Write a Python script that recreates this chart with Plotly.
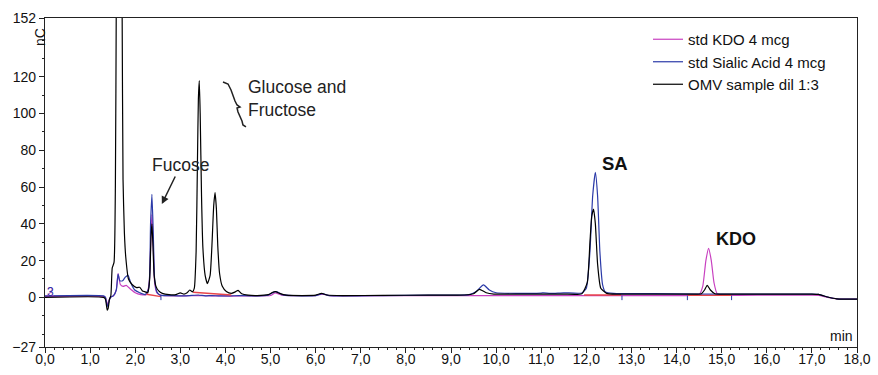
import plotly.graph_objects as go

# ---------------- data ----------------
t_omv = [0, 1.30, 1.34, 1.38, 1.40, 1.43, 1.46, 1.49, 1.53, 1.56, 1.58, 1.61, 1.66, 1.69, 1.71, 1.73,
         1.76, 1.79, 1.85, 1.93, 2.03, 2.10, 2.16, 2.22, 2.28, 2.32, 2.35, 2.37, 2.39, 2.42, 2.46, 2.52,
         2.60, 2.75, 2.90, 3.00, 3.08, 3.15, 3.21, 3.27, 3.31, 3.35, 3.38, 3.40, 3.42, 3.44, 3.47, 3.50,
         3.55, 3.60, 3.66, 3.70, 3.74, 3.77, 3.80, 3.83, 3.87, 3.93, 4.02, 4.13, 4.22, 4.28, 4.36, 4.50,
         4.70, 4.95, 5.05, 5.11, 5.20, 5.35, 5.70, 6.00, 6.13, 6.25, 6.60, 7.5, 8.5, 9.3, 9.50, 9.63,
         9.78, 9.95, 10.5, 11.0, 11.5, 11.9, 12.02, 12.08, 12.12, 12.16, 12.20, 12.25, 12.32, 12.45, 12.7,
         13.5, 14.3, 14.55, 14.62, 14.68, 14.75, 14.85, 15.1, 16.0, 17.0, 17.15, 17.35, 17.55, 18.0]
v_omv = [0, 0, -1, -7, -6, -1, 1, 16, 19, 60, 160, 300, 310, 240, 155, 64,
         35, 22, 10, 7, 5.3, 5.5, 3.5, 3, 2.5, 10, 33, 40, 30, 12, 6, 3.5,
         2.2, 1.5, 1.5, 2.5, 1.8, 2.5, 4, 3, 5, 25, 75, 108, 118, 100, 55, 27,
         12, 7.5, 12, 28, 50, 57, 48, 28, 13, 6, 3.2, 2.2, 3, 3.8, 2, 1.2,
         1, 1.5, 2.8, 3.1, 2.2, 1.2, 1, 1.2, 2.2, 1.3, 1, 1.1, 1.2, 1.3, 2, 4.4,
         2.5, 1.8, 1.8, 1.8, 1.8, 2, 8, 30, 44, 48, 40, 18, 5, 2.2, 1.8,
         1.8, 1.8, 2, 4, 6.6, 4, 2, 1.8, 1.8, 1.8, 1.6, 0.2, -0.8, -1]

t_sa = [0, 1.30, 1.34, 1.38, 1.41, 1.45, 1.52, 1.58, 1.62, 1.66, 1.72, 1.78, 1.84, 1.90, 1.99, 2.10,
        2.22, 2.30, 2.34, 2.37, 2.40, 2.43, 2.48, 2.55, 2.8, 3.0, 3.2, 3.4, 3.55, 3.7, 3.85, 4.1, 4.3,
        4.6, 4.95, 5.08, 5.15, 5.25, 5.5, 6.0, 6.15, 6.3, 7.5, 8.5, 9.4, 9.55, 9.72, 9.85, 10.0, 10.5,
        11.0, 11.05, 11.2, 11.5, 11.9, 12.0, 12.08, 12.14, 12.20, 12.25, 12.30, 12.36, 12.42, 12.6,
        13.5, 14.5, 15.5, 16.5, 17.0, 17.15, 17.35, 17.55, 18.0]
v_sa = [0.8, 0.8, 0, -5, -3, 0, 1, 4, 12.7, 9, 9, 11, 12, 8, 4, 2.5,
        1.5, 5, 40, 56, 35, 10, 3, 1.2, 1, 0.8, 1, 1.3, 0.8, 1, 0.8, 0.8, 1,
        0.8, 1.2, 3, 3, 1.5, 0.9, 1, 2, 1, 1, 1.2, 1.5, 3, 6.8, 4, 2.5, 2.2,
        2.3, 2.5, 2.2, 2.5, 2.4, 5, 25, 55, 68, 55, 25, 7, 3, 2.2,
        2.0, 1.8, 1.8, 1.8, 1.8, 1.6, 0.2, -0.8, -1]

t_kdo = [0, 1.30, 1.34, 1.38, 1.41, 1.45, 1.52, 1.58, 1.62, 1.67, 1.73, 1.80, 1.85, 1.92, 2.00, 2.12,
         2.25, 2.31, 2.35, 2.37, 2.40, 2.43, 2.48, 2.6, 3.0, 3.4, 3.7, 4.1, 4.6, 5.0, 5.1, 5.25, 6.0,
         6.15, 6.3, 8.0, 9.5, 10.0, 12.0, 14.0, 14.5, 14.58, 14.65, 14.71, 14.77, 14.83, 14.9, 15.1,
         16.0, 17.0, 17.15, 17.35, 17.55, 18.0]
v_kdo = [0.5, 0.5, 0, -4, -2, 0, 1, 4, 13, 7, 6, 6.5, 5.5, 4, 2.5, 1.5,
         1.5, 8, 35, 45, 28, 8, 2.5, 1, 0.8, 1, 0.8, 0.7, 0.8, 1, 2.5, 1.2, 1,
         1.8, 1, 1, 1, 1, 1, 1, 1.5, 6, 20, 26.7, 20, 8, 2, 1.2,
         1.2, 1.2, 1.1, 0, -0.8, -1]

# integration baselines (red) as (start, end) pairs
base_t = [[2.25, 2.57], [3.28, 4.13], [11.95, 12.77], [14.24, 15.22]]
base_v = [[1.7, 0.4], [2.8, 1.3], [1.3, 1.3], [1.1, 1.1]]
# peak boundary markers (blue)
mark_t = [2.57, 12.79, 14.24, 15.22]

series_names = ["std KDO 4 mcg", "std Sialic Acid 4 mcg", "OMV sample dil 1:3"]
x_ticks = [0, 1, 2, 3, 4, 5, 6, 7, 8, 9, 10, 11, 12, 13, 14, 15, 16, 17, 18]
y_ticks = [-27, 0, 20, 40, 60, 80, 100, 120, 152]

# ---------------- figure ----------------
W, H = 878, 375
ML, MR, MT, MB = 45, 21, 18, 28
PW, PH = W - ML - MR, H - MT - MB

def px2paper(px, py):
    return (px - ML) / PW, (H - MB - py) / PH

PINK, BLUE, BLACK, RED = "#c840c0", "#2b3aa8", "#000000", "#e8454a"
FONT = "Liberation Sans, Arial, Helvetica, sans-serif"

fig = go.Figure()
fig.add_trace(go.Scatter(x=t_kdo, y=v_kdo, mode="lines", name=series_names[0],
                         line=dict(color=PINK, width=1.2, shape="spline", smoothing=0.5)))
fig.add_trace(go.Scatter(x=t_sa, y=v_sa, mode="lines", name=series_names[1],
                         line=dict(color=BLUE, width=1.2, shape="spline", smoothing=0.5)))

bx, by = [], []
for ts, vs in zip(base_t, base_v):
    bx += ts + [None]
    by += vs + [None]
fig.add_trace(go.Scatter(x=bx, y=by, mode="lines", showlegend=False, hoverinfo="skip",
                         line=dict(color=RED, width=1.3)))
mx, my = [], []
for t in mark_t:
    mx += [t, t, None]
    my += [1.0, -1.5, None]
fig.add_trace(go.Scatter(x=mx, y=my, mode="lines", showlegend=False, hoverinfo="skip",
                         line=dict(color=BLUE, width=1)))

fig.add_trace(go.Scatter(x=t_omv, y=v_omv, mode="lines", name=series_names[2],
                         line=dict(color=BLACK, width=1.2, shape="spline", smoothing=0.5)))

# annotations
fig.add_annotation(x=2.59, y=50.8, ax=19, ay=-39, text="Fucose", showarrow=True,
                   arrowhead=2, arrowsize=1, arrowwidth=1.5, arrowcolor="#222",
                   font=dict(size=17.5, color="#222", family=FONT), standoff=0)
gx, gy = px2paper(246, 98)
fig.add_annotation(xref="paper", yref="paper", x=gx, y=gy, xanchor="left", yanchor="middle",
                   text="Glucose and<br>Fructose", showarrow=False, align="left",
                   font=dict(size=17.5, color="#222", family=FONT))
sx, sy = px2paper(615, 163)
fig.add_annotation(xref="paper", yref="paper", x=sx, y=sy, xanchor="center", yanchor="middle",
                   text="<b>SA</b>", showarrow=False,
                   font=dict(size=18.5, color="#111", family=FONT))
kx, ky = px2paper(736, 239)
fig.add_annotation(xref="paper", yref="paper", x=kx, y=ky, xanchor="center", yanchor="middle",
                   text="<b>KDO</b>", showarrow=False,
                   font=dict(size=18, color="#111", family=FONT))
nx, ny = px2paper(40, 37)
fig.add_annotation(xref="paper", yref="paper", x=nx, y=ny, xanchor="center", yanchor="middle",
                   text="nC", textangle=-90,
                   showarrow=False, font=dict(size=14, color="#111", family=FONT))
fig.add_annotation(xref="paper", yref="paper", x=1, y=0, xanchor="right", yanchor="bottom",
                   xshift=-2, yshift=1, text="min", showarrow=False,
                   font=dict(size=14, color="#111", family=FONT))
lx, ly = px2paper(50, 292)
fig.add_annotation(xref="paper", yref="paper", x=lx, y=ly, xanchor="center", yanchor="middle",
                   text="2", showarrow=False,
                   font=dict(size=12, color=PINK, family=FONT))
fig.add_annotation(xref="paper", yref="paper", x=lx, y=ly, xanchor="center", yanchor="middle",
                   text="3", showarrow=False,
                   font=dict(size=12, color=BLUE, family=FONT))

# curly brace next to glucose/fructose label
brace_px = [(223, 82), (228, 84), (231, 90), (235, 101), (237, 105), (240, 107),
            (237, 108), (238, 112), (242, 121), (243, 125), (246, 127)]
pts = [px2paper(a, b) for a, b in brace_px]
path = "M " + " L ".join(f"{a:.4f},{b:.4f}" for a, b in pts)
fig.add_shape(type="path", xref="paper", yref="paper", path=path,
              line=dict(color="#222", width=1.5))

fig.update_layout(
    width=W, height=H, margin=dict(l=ML, r=MR, t=MT, b=MB, autoexpand=False),
    paper_bgcolor="white", plot_bgcolor="white",
    separators=", ",
    font=dict(family=FONT, size=14, color="#111"),
    showlegend=True,
    legend=dict(x=px2paper(648, 0)[0], y=px2paper(0, 23)[1], xanchor="left", yanchor="top",
                bgcolor="rgba(0,0,0,0)", font=dict(size=15, family=FONT, color="#111"),
                itemwidth=30, tracegroupgap=0),
)
fig.update_xaxes(range=[0, 18], tickvals=x_ticks, tickformat=".1f", showgrid=False, zeroline=False,
                 showline=True, linecolor="#222", linewidth=1.2, mirror=True, automargin=False,
                 ticks="outside", ticklen=5, tickcolor="#222", ticklabelstandoff=-6,
                 minor=dict(dtick=0.2, ticks="outside", ticklen=2, tickcolor="#222"),
                 tickfont=dict(size=14, family=FONT))
fig.update_yaxes(range=[-27, 152], tickvals=y_ticks, showgrid=False, zeroline=False,
                 showline=True, linecolor="#222", linewidth=1.2, mirror=True, automargin=False,
                 ticks="outside", ticklen=5, tickcolor="#222",
                 minor=dict(tickvals=list(range(-20, 150, 10)), ticks="outside", ticklen=2,
                            tickcolor="#222"),
                 tickfont=dict(size=14, family=FONT))

fig.write_html("out.html")
